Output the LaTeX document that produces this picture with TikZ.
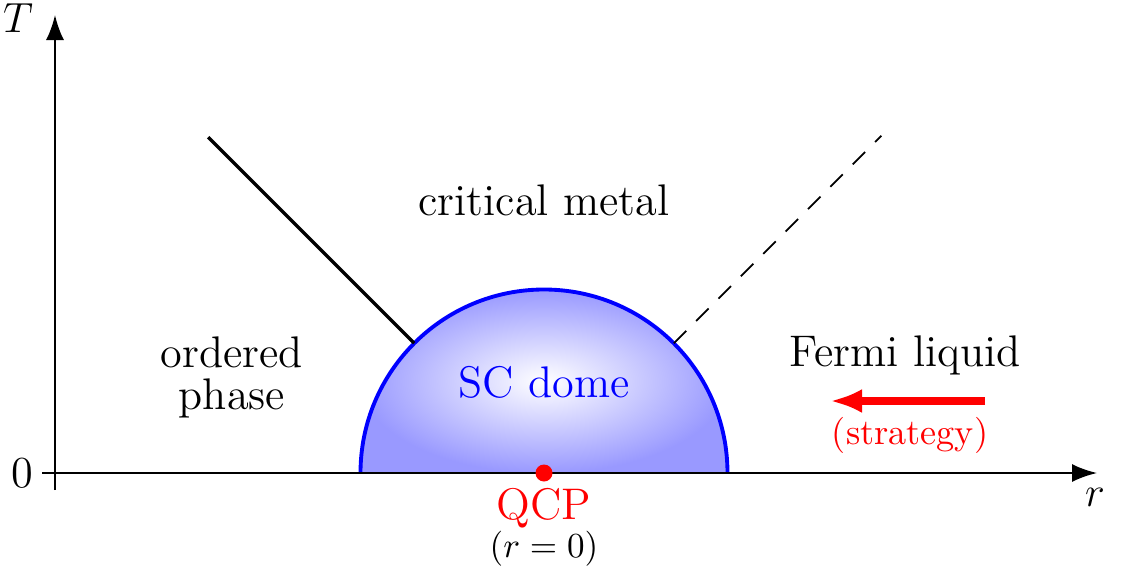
\documentclass[tikz,border=0pt]{standalone}
\usepackage{amsmath}
\usepackage{tikz}
\usetikzlibrary{arrows.meta,positioning,calc}

\begin{document}
\begin{tikzpicture}[
  every node/.style={font=\fontsize{12.6}{15}\selectfont,align=center},
  small/.style={font=\fontsize{10.3}{12}\selectfont},
  axis/.style={-{Latex[length=2.5mm,width=1.8mm]},line width=0.6pt},
  boundary/.style={line width=1pt},
  crossover/.style={dashed,line width=0.5pt,dash pattern=on 5pt off 4pt},
  dome/.style={draw=blue,line width=1.1pt,inner color=white,outer color=blue!40},
  strat/.style={red,line width=2pt,-{Latex[length=3.2mm,width=2.4mm]}}
]
\useasboundingbox (-0.55,-1.01) rectangle (10.7,4.73);
% dome
\coordinate (qcp) at (4.89,0);
\shade[dome] ($(qcp)+(-1.835,0)$) arc[start angle=180,end angle=0,radius=1.835];
% axes
\coordinate (o) at (0,0);
\coordinate (rend) at (10.42,0);
\coordinate (tend) at (0,4.58);
\draw[axis] (-0.13,0) -- (rend);
\draw[axis] (0,-0.17) -- (tend);
\node (tlab) at (-0.37,4.55) {$T$};
\node (rlab) at (10.4,-0.24) {$r$};
\node (zero) at (-0.33,0) {0};
% phase boundaries
\draw[boundary] ($(qcp)+(135:1.835)$) -- ($(qcp)+(135:4.75)$);
\draw[crossover] ($(qcp)+(45:1.835)$) -- ($(qcp)+(45:4.77)$);
\fill[red] (qcp) circle (0.085);
% labels
\node (crit) at (4.89,2.73) {critical metal};
\node[text depth=0pt] (order) at (1.77,1.0) {ordered\\[-3pt]phase};
\node[blue] (sc) at (4.89,0.91) {SC dome};
\node (fermi) at (8.5,1.18) {Fermi liquid};
\node[red] (qcplab) at (4.89,-0.35) {QCP};
\node[small] (rzero) at (4.89,-0.76) {$(r=0)$};
\coordinate (sa) at (9.3,0.72);
\coordinate (sb) at (7.75,0.72);
\draw[strat] (sa) -- (sb);
\node[red,small] (stlab) at (8.55,0.38) {(strategy)};
\end{tikzpicture}
\end{document}
